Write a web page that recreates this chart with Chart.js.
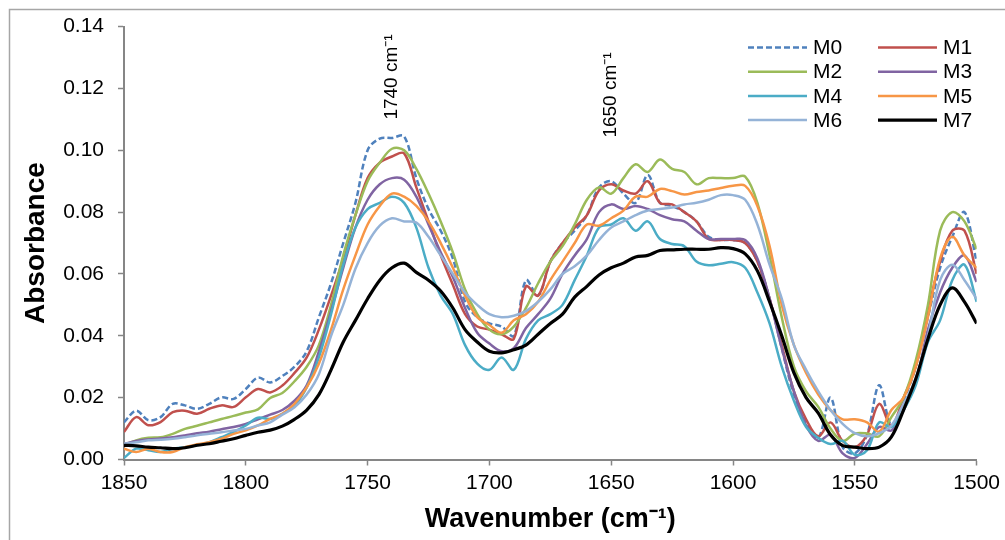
<!DOCTYPE html>
<html>
<head>
<meta charset="utf-8">
<script src="https://cdn.jsdelivr.net/npm/chart.js@4.4.1/dist/chart.umd.min.js"></script>
<style>
  html, body { margin: 0; padding: 0; background: #fff; }
  #wrap { width: 1005px; height: 540px; }
</style>
</head>
<body>
<div id="wrap"><canvas id="spectraChart" width="1005" height="540"></canvas></div>
<script>
// Wavenumber grid (cm-1)
const wavenumbers = [1850, 1845, 1840, 1835, 1830, 1825, 1820, 1815, 1810, 1805,
  1800, 1795, 1790, 1785, 1780, 1775, 1770, 1765, 1760, 1755,
  1750, 1745, 1740, 1735, 1730, 1725, 1720, 1715, 1710, 1705,
  1700, 1695, 1690, 1685, 1680, 1675, 1670, 1665, 1660, 1655,
  1650, 1645, 1640, 1635, 1630, 1625, 1620, 1615, 1610, 1605,
  1600, 1595, 1590, 1585, 1580, 1575, 1570, 1565, 1560, 1555,
  1550, 1545, 1540, 1535, 1530, 1525, 1520, 1515, 1510, 1505, 1500];

// Absorbance of each sample
const m0 = [0.012, 0.0158, 0.0127, 0.0137, 0.018, 0.0175, 0.0164, 0.018, 0.0201, 0.0196,
  0.0228, 0.0265, 0.0249, 0.027, 0.030, 0.035, 0.046, 0.057, 0.070, 0.083,
  0.100, 0.1038, 0.104, 0.1045, 0.091, 0.081, 0.074, 0.065, 0.051, 0.046,
  0.044, 0.043, 0.040, 0.058, 0.053, 0.064, 0.070, 0.074, 0.079, 0.088,
  0.090, 0.086, 0.083, 0.092, 0.083, 0.082, 0.080, 0.077, 0.072, 0.071,
  0.071, 0.070, 0.064, 0.052, 0.036, 0.021, 0.012, 0.007, 0.020, 0.004,
  0.002, 0.008, 0.024, 0.011, 0.019, 0.030, 0.046, 0.062, 0.072, 0.080, 0.064];
const m1 = [0.0089, 0.0137, 0.0111, 0.0121, 0.0153, 0.0158, 0.0148, 0.0164, 0.0175, 0.017,
  0.0201, 0.0228, 0.0217, 0.0239, 0.028, 0.033, 0.042, 0.053, 0.065, 0.079,
  0.091, 0.096, 0.098, 0.099, 0.088, 0.077, 0.066, 0.0565, 0.047, 0.043,
  0.042, 0.0405, 0.039, 0.056, 0.053, 0.064, 0.070, 0.075, 0.079, 0.087,
  0.089, 0.087, 0.086, 0.090, 0.083, 0.0825, 0.080, 0.077, 0.0713, 0.071,
  0.071, 0.070, 0.064, 0.052, 0.037, 0.022, 0.013, 0.0075, 0.012, 0.006,
  0.004, 0.008, 0.018, 0.011, 0.020, 0.030, 0.048, 0.064, 0.074, 0.074, 0.060];
const m2 = [0.0046, 0.0062, 0.007, 0.0072, 0.0083, 0.0099, 0.0109, 0.012, 0.0131, 0.0141,
  0.0152, 0.0162, 0.0199, 0.0215, 0.0253, 0.030, 0.037, 0.050, 0.066, 0.079,
  0.090, 0.096, 0.1005, 0.100, 0.094, 0.086, 0.077, 0.067, 0.055, 0.047,
  0.042, 0.0405, 0.043, 0.049, 0.057, 0.064, 0.069, 0.076, 0.084, 0.088,
  0.086, 0.091, 0.0955, 0.093, 0.097, 0.094, 0.093, 0.089, 0.091, 0.091,
  0.091, 0.0915, 0.083, 0.066, 0.046, 0.030, 0.022, 0.017, 0.010, 0.006,
  0.0084, 0.0084, 0.0075, 0.0137, 0.020, 0.032, 0.050, 0.074, 0.080, 0.077, 0.068];
const m3 = [0.005, 0.006, 0.0065, 0.0068, 0.0072, 0.0078, 0.0085, 0.009, 0.0098, 0.0105,
  0.0115, 0.013, 0.0145, 0.016, 0.019, 0.024, 0.035, 0.048, 0.062, 0.075,
  0.084, 0.089, 0.091, 0.0905, 0.085, 0.076, 0.067, 0.059, 0.049, 0.041,
  0.0375, 0.035, 0.036, 0.0425, 0.047, 0.052, 0.060, 0.066, 0.0713, 0.080,
  0.0825, 0.081, 0.082, 0.081, 0.079, 0.0777, 0.077, 0.074, 0.0713, 0.0713,
  0.0713, 0.071, 0.065, 0.052, 0.036, 0.022, 0.011, 0.006, 0.008, 0.002,
  0.0005, 0.005, 0.0105, 0.0094, 0.016, 0.025, 0.042, 0.054, 0.062, 0.066, 0.0574];
const m4 = [0.0005, 0.0035, 0.003, 0.0024, 0.0035, 0.004, 0.0046, 0.0056, 0.0072, 0.0089,
  0.011, 0.0135, 0.0131, 0.0148, 0.0174, 0.0233, 0.033, 0.047, 0.063, 0.075,
  0.081, 0.083, 0.085, 0.083, 0.075, 0.062, 0.053, 0.047, 0.037, 0.031,
  0.029, 0.033, 0.029, 0.039, 0.045, 0.047, 0.050, 0.058, 0.066, 0.075,
  0.076, 0.078, 0.074, 0.077, 0.0713, 0.0697, 0.069, 0.064, 0.0628, 0.0633,
  0.0638, 0.062, 0.054, 0.044, 0.030, 0.019, 0.0105, 0.007, 0.005, 0.006,
  0.0015, 0.003, 0.012, 0.0105, 0.016, 0.024, 0.038, 0.045, 0.058, 0.063, 0.051];
const m5 = [0.0035, 0.0024, 0.0035, 0.0024, 0.0024, 0.004, 0.0049, 0.0056, 0.0067, 0.0083,
  0.0094, 0.011, 0.0131, 0.0148, 0.018, 0.0233, 0.031, 0.042, 0.055, 0.066,
  0.076, 0.082, 0.086, 0.085, 0.082, 0.077, 0.070, 0.062, 0.053, 0.046,
  0.0435, 0.041, 0.045, 0.047, 0.051, 0.058, 0.064, 0.070, 0.076, 0.0756,
  0.078, 0.0805, 0.085, 0.085, 0.0875, 0.0868, 0.0857, 0.0865, 0.087, 0.0878,
  0.0885, 0.0885, 0.082, 0.069, 0.050, 0.037, 0.028, 0.021, 0.016, 0.013,
  0.013, 0.012, 0.009, 0.016, 0.020, 0.030, 0.046, 0.065, 0.072, 0.066, 0.062];
const m6 = [0.0051, 0.0056, 0.0062, 0.0064, 0.0067, 0.0072, 0.0078, 0.0083, 0.0088, 0.0094,
  0.0099, 0.011, 0.012, 0.0145, 0.0169, 0.021, 0.0276, 0.040, 0.050, 0.0617,
  0.070, 0.0756, 0.078, 0.077, 0.0766, 0.072, 0.066, 0.060, 0.054, 0.050,
  0.047, 0.046, 0.0465, 0.048, 0.051, 0.055, 0.060, 0.0625, 0.066, 0.071,
  0.075, 0.077, 0.079, 0.0805, 0.081, 0.0815, 0.0825, 0.083, 0.084, 0.0855,
  0.0855, 0.084, 0.076, 0.063, 0.052, 0.037, 0.029, 0.022, 0.016, 0.0115,
  0.0085, 0.0075, 0.0085, 0.011, 0.018, 0.026, 0.040, 0.058, 0.063, 0.058, 0.052];
const m7 = [0.0046, 0.0044, 0.004, 0.0038, 0.0035, 0.0038, 0.0046, 0.0051, 0.0059, 0.0067,
  0.0078, 0.0088, 0.0095, 0.0108, 0.013, 0.016, 0.021, 0.029, 0.038, 0.045,
  0.052, 0.058, 0.062, 0.0635, 0.0605, 0.058, 0.0545, 0.049, 0.042, 0.038,
  0.035, 0.0345, 0.0355, 0.037, 0.0405, 0.044, 0.047, 0.0525, 0.056, 0.0597,
  0.062, 0.0635, 0.0655, 0.066, 0.0676, 0.0678, 0.068, 0.068, 0.068, 0.0685,
  0.0682, 0.0665, 0.061, 0.051, 0.040, 0.028, 0.020, 0.015, 0.008, 0.0045,
  0.004, 0.0035, 0.004, 0.0073, 0.016, 0.026, 0.039, 0.050, 0.0555, 0.051, 0.044];

const seriesNames = ['M0', 'M1', 'M2', 'M3', 'M4', 'M5', 'M6', 'M7'];
const seriesValues = [m0, m1, m2, m3, m4, m5, m6, m7];
const seriesColors = ['#4F81BD', '#C0504D', '#9BBB59', '#8064A2', '#4BACC6', '#F79646', '#95B3D7', '#000000'];

// band markers
const bandPositions = [1740, 1650];

const FONT = '"Liberation Sans", Arial, sans-serif';

const datasets = seriesNames.map((name, i) => ({
  label: name,
  data: wavenumbers.map((w, j) => ({ x: w, y: seriesValues[i][j] })),
  borderColor: seriesColors[i],
  borderWidth: i === 7 ? 3.2 : 2.5,
  borderDash: i === 0 ? [6, 3] : [],
  pointRadius: 0,
  tension: 0.35,
  fill: false,
  order: 8 - i
}));

// whole-chart frame (only left and top edges fall inside the picture)
const framePlugin = {
  id: 'frame',
  beforeDraw(chart) {
    const ctx = chart.ctx;
    ctx.save();
    ctx.fillStyle = '#fff';
    ctx.fillRect(0, 0, chart.width, chart.height);
    ctx.strokeStyle = '#a6a6a6';
    ctx.lineWidth = 1.5;
    ctx.strokeRect(9.5, 9.5, 1100, 600);
    ctx.restore();
  }
};

const bandLabels = {
  id: 'bandLabels',
  afterDatasetsDraw(chart) {
    const ctx = chart.ctx;
    const xs = chart.scales.x;
    const centers = [77, 95];
    ctx.save();
    ctx.font = '19px ' + FONT;
    ctx.fillStyle = '#000';
    ctx.textAlign = 'center';
    ctx.textBaseline = 'middle';
    bandPositions.forEach((w, i) => {
      ctx.save();
      ctx.translate(xs.getPixelForValue(w), centers[i]);
      ctx.rotate(-Math.PI / 2);
      ctx.fillText(w + ' cm\u207B\u00B9', 0, 0);
      ctx.restore();
    });
    ctx.restore();
  }
};

const legendGrid = {
  id: 'legendGrid',
  afterDraw(chart) {
    const ctx = chart.ctx;
    ctx.save();
    ctx.font = '21px ' + FONT;
    ctx.textBaseline = 'middle';
    ctx.fillStyle = '#000';
    chart.data.datasets.forEach((ds, i) => {
      const x = 748 + (i % 2) * 130;
      const y = 47.5 + Math.floor(i / 2) * 24.2;
      ctx.beginPath();
      ctx.strokeStyle = ds.borderColor;
      ctx.lineWidth = ds.borderWidth;
      ctx.setLineDash(ds.borderDash);
      ctx.moveTo(x, y);
      ctx.lineTo(x + 59, y);
      ctx.stroke();
      ctx.setLineDash([]);
      ctx.fillText(ds.label, x + 65, y + 1);
    });
    ctx.restore();
  }
};

const ctx = document.getElementById('spectraChart').getContext('2d');

const spectraChart = new Chart(ctx, {
  type: 'line',
  data: { datasets: datasets },
  options: {
    responsive: false,
    animation: false,
    layout: { padding: { left: 0, right: 25, top: 22, bottom: 0 } },
    plugins: {
      legend: { display: false },
      tooltip: { enabled: false }
    },
    scales: {
      x: {
        type: 'linear',
        reverse: true,
        min: 1500,
        max: 1850,
        afterFit: (scale) => { scale.height = 80.5; },
        ticks: {
          stepSize: 50,
          color: '#000',
          font: { family: FONT, size: 21 },
          padding: 5,
          maxRotation: 0,
          callback: (v) => String(v)
        },
        grid: { drawOnChartArea: false, drawTicks: true, tickLength: 6, tickColor: '#868686', tickWidth: 1.5 },
        border: { color: '#868686', width: 2 },
        title: {
          display: true,
          text: 'Wavenumber (cm\u207B\u00B9)',
          color: '#000',
          font: { family: FONT, size: 27, weight: 'bold' },
          padding: { top: 0, bottom: 4 }
        }
      },
      y: {
        min: 0,
        max: 0.14,
        afterFit: (scale) => { scale.width = 124; },
        ticks: {
          stepSize: 0.02,
          color: '#000',
          font: { family: FONT, size: 21 },
          padding: 14,
          callback: (v) => v.toFixed(2)
        },
        grid: { drawOnChartArea: false, drawTicks: true, tickLength: 6, tickColor: '#868686', tickWidth: 1.5 },
        border: { color: '#868686', width: 2 },
        title: {
          display: true,
          text: 'Absorbance',
          color: '#000',
          font: { family: FONT, size: 28, weight: 'bold' },
          padding: { top: 19, bottom: 0 }
        }
      }
    }
  },
  plugins: [framePlugin, bandLabels, legendGrid]
});
</script>
</body>
</html>
